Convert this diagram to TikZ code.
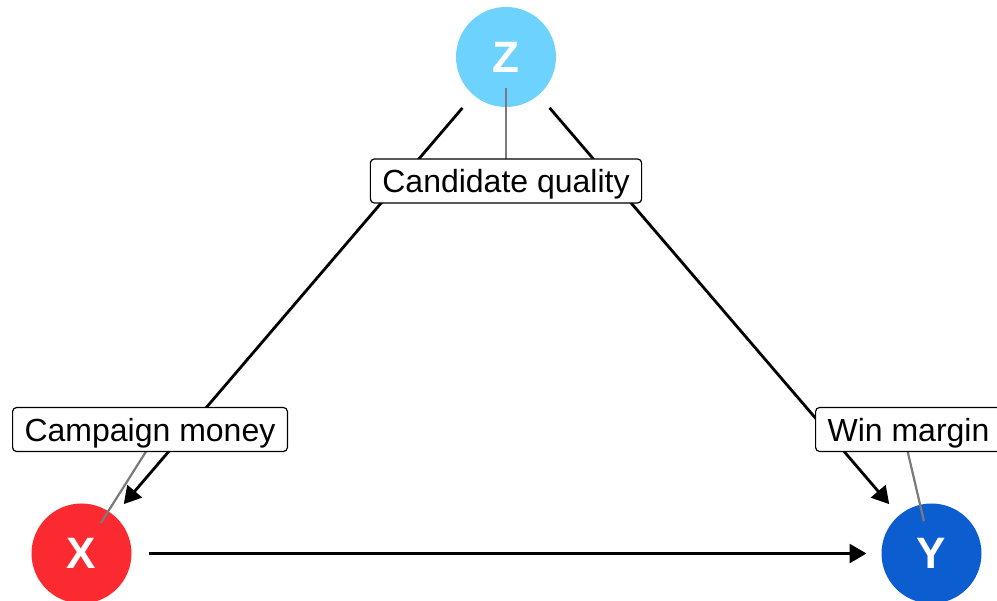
\documentclass[tikz,border=0pt]{standalone}
\usepackage{fontspec}
\setmainfont{Liberation Sans}
\usetikzlibrary{arrows.meta}
\definecolor{zcol}{HTML}{6DD3FE}
\definecolor{xcol}{HTML}{FB2A30}
\definecolor{ycol}{HTML}{0C5DD0}
\definecolor{leadcol}{HTML}{7A7A7A}
\pgfdeclarelayer{links}
\pgfdeclarelayer{tags}
\pgfsetlayers{main,links,tags}
\begin{document}
\begin{tikzpicture}[x=1pt,y=-1pt,
  var/.style={circle, minimum size=100pt, inner sep=0pt, outer sep=0pt,
    text=white, font=\fontsize{44}{44}\selectfont\bfseries},
  causal/.style={line width=2.8pt, -{Triangle[length=17pt,width=19pt]},
    shorten <=67pt, shorten >=65pt},
  tag/.style={draw, fill=white, rounded corners=4pt, line width=1.2pt,
    inner xsep=12pt, inner ysep=0pt, minimum height=44pt,
    text height=24pt, text depth=0pt, font=\fontsize{32}{32}\selectfont},
  leader/.style={draw=leadcol, line width=2.2pt}]
\useasboundingbox (0,0) rectangle (997,601);

% variables
\node[var, fill=zcol] (z) at (506,57) {Z};
\node[var, fill=xcol] (x) at (81.5,553.5) {X};
\node[var, fill=ycol] (y) at (931.5,553.5) {Y};

% variable labels
\begin{pgfonlayer}{tags}
\node[tag] (cq) at (506,181) {Candidate quality};
\node[tag] (cm) at (150,429.5) {Campaign money};
\node[tag] (wm) at (908.5,429.5) {Win margin};
\end{pgfonlayer}

% causal paths and label leaders
\begin{pgfonlayer}{links}
\draw[causal] (z.center) -- (x.center);
\draw[causal] (z.center) -- (y.center);
\draw[causal] (x.center) -- (y.center);
\draw[leader, shorten >=31pt] (cq.center) -- (z.center);
\draw[leader, shorten >=36pt] ([xshift=10pt]cm.center) -- (x.center);
\draw[leader, shorten >=33pt] ([xshift=-6pt]wm.center) -- (y.center);
\end{pgfonlayer}
\end{tikzpicture}
\end{document}
